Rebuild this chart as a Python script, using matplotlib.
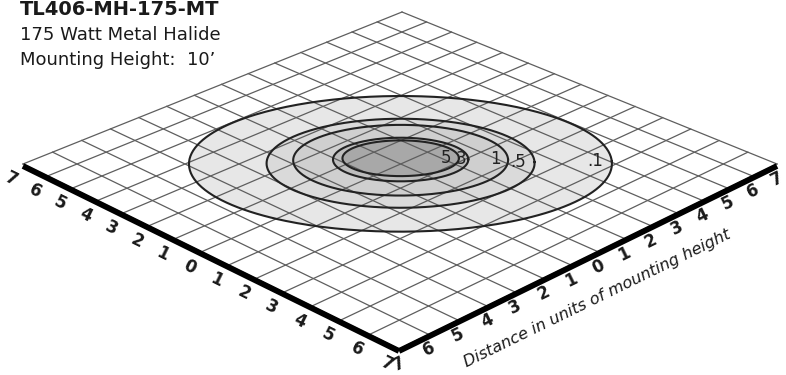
import numpy as np
import matplotlib.pyplot as plt

# floor grid corners: grid units -> picture pixels (y grows downward)
grid_corners = [(-7, -7), (7, -7), (7, 7), (-7, 7)]
pixel_corners = [(23, 164), (399, 349), (777, 164), (402, 12)]

ticks = list(range(-7, 8))
tick_labels = [str(abs(t)) for t in ticks]

# isofootcandle contours, in units of mounting height
levels = ['.1', '.5', '1', '3', '5']
semi_along = [3.93, 2.49, 2.00, 1.26, 1.085]   # half length toward the right corner
semi_across = [2.85, 1.87, 1.49, 0.92, 0.755]  # half width toward the front
center_across = [-0.12, -0.08, -0.19, -0.2, -0.25]
label_inset = [0.17, 0.15, 0.13, 0.04, 0.15]
band_greys = ['#e7e7e7', '#dadada', '#cfcfcf', '#bdbdbd', '#a8a8a8']


def solve_h(src, dst):
    A, b = [], []
    for (x, y), (X, Y) in zip(src, dst):
        A.append([x, y, 1, 0, 0, 0, -X * x, -X * y])
        b.append(X)
        A.append([0, 0, 0, x, y, 1, -Y * x, -Y * y])
        b.append(Y)
    h = np.linalg.solve(np.array(A, float), np.array(b, float))
    return np.append(h, 1).reshape(3, 3)


H = solve_h(grid_corners, pixel_corners)


def project(u, v):
    u = np.asarray(u, float)
    v = np.asarray(v, float)
    w = H[2, 0] * u + H[2, 1] * v + H[2, 2]
    return (H[0, 0] * u + H[0, 1] * v + H[0, 2]) / w, (H[1, 0] * u + H[1, 1] * v + H[1, 2]) / w


def ellipse(a, b, cq):
    t = np.linspace(0, 2 * np.pi, 300)
    p = a * np.cos(t)
    q = cq + b * np.sin(t)
    return project(p + q, p - q)


fig = plt.figure(figsize=(7.86, 3.75), dpi=100)
ax = fig.add_axes([0, 0, 1, 1])
ax.set_xlim(0, 786)
ax.set_ylim(375, 0)
ax.axis('off')

# shaded bands
for a, b, cq, c in zip(semi_along, semi_across, center_across, band_greys):
    x, y = ellipse(a, b, cq)
    ax.fill(x, y, color=c, lw=0, zorder=1)

# grid
for t in ticks:
    x, y = project([t, t], [-7, 7])
    ax.plot(x, y, color='#5e5e5e', lw=0.9, zorder=2)
    x, y = project([-7, 7], [t, t])
    ax.plot(x, y, color='#5e5e5e', lw=0.9, zorder=2)

# contour lines and their labels
for lab, a, b, cq, ins in zip(levels, semi_along, semi_across, center_across, label_inset):
    x, y = ellipse(a, b, cq)
    ax.plot(x, y, color='#222222', lw=1.5, zorder=3)
    lx, ly = project(a - ins + cq, a - ins - cq)
    ax.text(lx, ly, lab, fontsize=12, color='#222222', ha='right', va='center', zorder=4)

# thick front edges
x, y = project([-7, 7], [-7, -7])
ax.plot(x, np.asarray(y) + 2, color='black', lw=4.2, solid_capstyle='butt', zorder=5)
ang_left = -np.degrees(np.arctan2(y[1] - y[0], x[1] - x[0]))
x, y = project([7, 7], [-7, 7])
ax.plot(x, np.asarray(y) + 2, color='black', lw=4.2, solid_capstyle='butt', zorder=5)
ang_right = -np.degrees(np.arctan2(y[1] - y[0], x[1] - x[0]))

# axis numbers
for t, lab in zip(ticks, tick_labels):
    x, y = project(t, -7)
    ax.text(x - 12, y + 15, lab, fontsize=12, fontweight='bold', color='#1a1a1a',
            rotation=ang_left, rotation_mode='anchor', ha='center', va='center')
    x, y = project(7, t)
    ax.text(x, y + 15, lab, fontsize=12, fontweight='bold', color='#1a1a1a',
            rotation=ang_right, rotation_mode='anchor', ha='center', va='center')

ax.text(597, 298, 'Distance in units of mounting height', fontsize=11.6, style='italic',
        color='#1a1a1a', rotation=ang_right, rotation_mode='anchor', ha='center', va='center')

# header
ax.text(20, 15, 'TL406-MH-175-MT', fontsize=14, fontweight='bold', color='#1a1a1a')
ax.text(20, 40, '175 Watt Metal Halide', fontsize=13, color='#1a1a1a')
ax.text(20, 65, 'Mounting Height:  10\u2019', fontsize=13, color='#1a1a1a')

fig.savefig('out.png', dpi=100)
